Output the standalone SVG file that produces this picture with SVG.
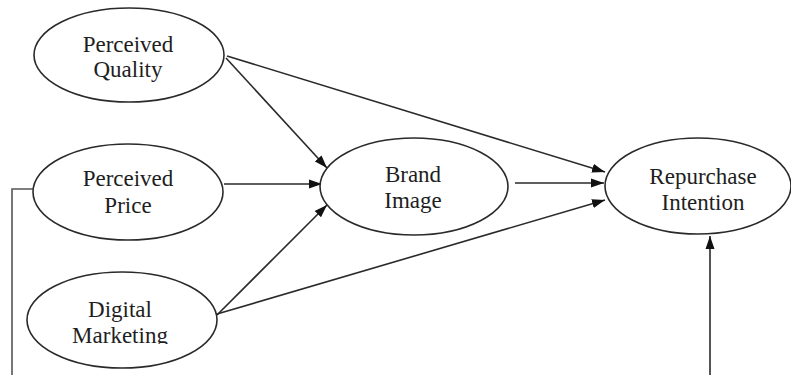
<svg xmlns="http://www.w3.org/2000/svg" width="791" height="375" viewBox="0 0 791 375">
<style>
.node ellipse{fill:#fff;stroke:#2a2a2a;stroke-width:1.6}
.node text{font-family:"Liberation Serif","Times New Roman",serif;font-size:23px;fill:#1e1e1e;text-anchor:middle}
.conn line,.conn polyline{stroke:#2a2a2a;stroke-width:1.6;fill:none}
</style>
<defs>
<marker id="arr" markerUnits="userSpaceOnUse" markerWidth="14" markerHeight="10" refX="13" refY="5" orient="auto">
<path d="M0,0.5 L13,5 L0,9.5 Z" fill="#111"/>
</marker>
<clipPath id="clipMk"><rect x="0" y="0" width="791" height="344"/></clipPath>
</defs>
<rect width="791" height="375" fill="#fff"/>
<g class="conn">
<line x1="226" y1="58" x2="327" y2="168" marker-end="url(#arr)"/>
<line x1="227" y1="56" x2="605" y2="172" marker-end="url(#arr)"/>
<line x1="224" y1="184" x2="322" y2="184" marker-end="url(#arr)"/>
<line x1="217" y1="315" x2="327" y2="205" marker-end="url(#arr)"/>
<line x1="217" y1="314" x2="605" y2="200" marker-end="url(#arr)"/>
<line x1="515" y1="183" x2="604" y2="183" marker-end="url(#arr)"/>
<line x1="710" y1="375" x2="710" y2="236" marker-end="url(#arr)"/>
<polyline points="33,189 12,189 12,375" style="stroke:#555"/>
</g>
<g id="perceived-quality" class="node">
<ellipse cx="129" cy="55" rx="95" ry="47"/>
<text x="128" y="52">Perceived</text>
<text x="128" y="77">Quality</text>
</g>
<g id="perceived-price" class="node">
<ellipse cx="128" cy="192" rx="95" ry="48"/>
<text x="128" y="186">Perceived</text>
<text x="128" y="213">Price</text>
</g>
<g id="digital-marketing" class="node">
<ellipse cx="122" cy="320" rx="95" ry="48"/>
<text x="120" y="317">Digital</text>
<text x="120" y="343" clip-path="url(#clipMk)">Marketing</text>
</g>
<g id="brand-image" class="node">
<ellipse cx="414" cy="186.5" rx="94" ry="48.5"/>
<text x="413" y="182">Brand</text>
<text x="413" y="208">Image</text>
</g>
<g id="repurchase-intention" class="node">
<ellipse cx="698" cy="186" rx="93" ry="48"/>
<text x="703" y="184">Repurchase</text>
<text x="703" y="210">Intention</text>
</g>
</svg>
